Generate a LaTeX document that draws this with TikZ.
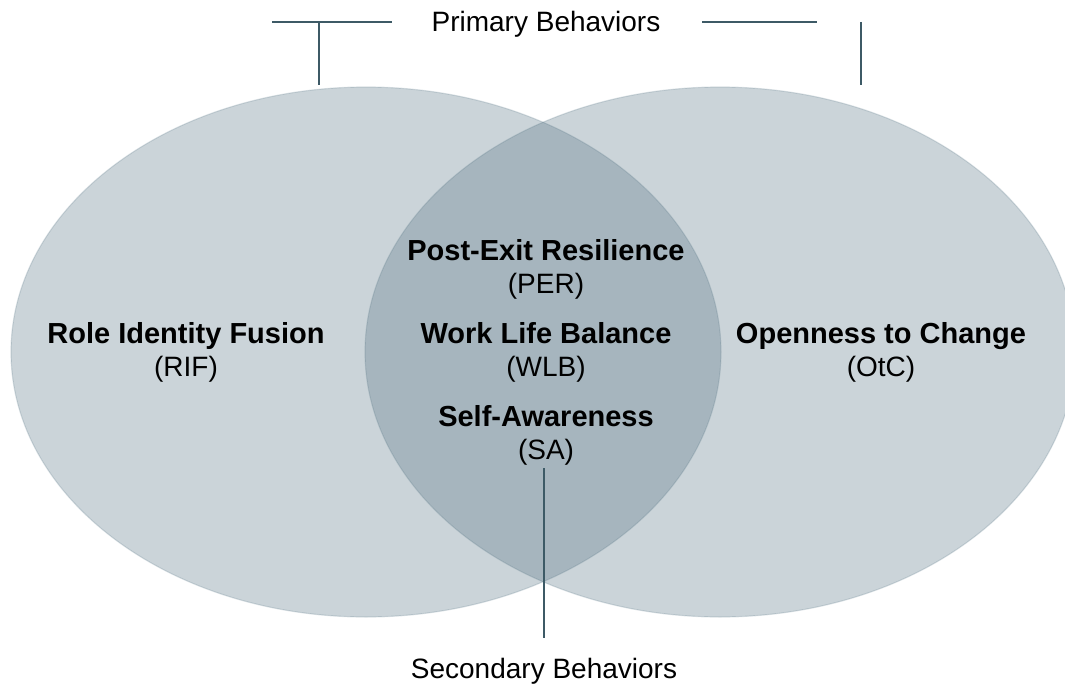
\documentclass[tikz,border=0pt]{standalone}
\usepackage{fontspec}
\setmainfont{Liberation Sans}
\usetikzlibrary{shapes.geometric}
\definecolor{setcolor}{RGB}{76,107,124}
\definecolor{tickcolor}{RGB}{61,90,102}

\begin{document}
\begin{tikzpicture}[x=1pt,y=-1pt,
          set/.style = {ellipse, fill=setcolor, fill opacity=0.29,
          draw=setcolor, draw opacity=0.2, line width=1.2pt,
          minimum width=710pt, minimum height=530pt, inner sep=0pt},
          factor/.style = {align=center, text=black,
          font=\fontsize{28}{33}\selectfont},
          caption/.style = {font=\fontsize{28}{32}\selectfont},
          tick/.style = {draw=tickcolor, line width=2pt}
          ]
          \useasboundingbox (0,0) rectangle (1065,685);
          \node[set] (rif set) at (366,352) {};
          \node[set] (otc set) at (720,352) {};

          \node[factor] (rif) at (186,352) {{\fontsize{29}{33}\selectfont\bfseries Role Identity Fusion} \\ (RIF)};
          \node[factor] (otc) at (881,352) {{\fontsize{29}{33}\selectfont\bfseries Openness to Change} \\ (OtC)};
          \node[factor] (per) at (546,269) {{\fontsize{29}{33}\selectfont\bfseries Post-Exit Resilience} \\ (PER)};
          \node[factor] (wlb) at (546,352) {{\fontsize{29}{33}\selectfont\bfseries Work Life Balance} \\ (WLB)};
          \node[factor] (sa) at (546,435) {{\fontsize{29}{33}\selectfont\bfseries Self-Awareness} \\ (SA)};

          \node[caption] (primary) at (546,24) {Primary Behaviors};
          \node[caption] (secondary) at (544,671) {Secondary Behaviors};

          % brackets
          \coordinate (left a) at (272,22);
          \coordinate (left b) at (392,22);
          \coordinate (left top) at (319,22);
          \coordinate (left end) at (319,85);
          \coordinate (right a) at (702,22);
          \coordinate (right b) at (817,22);
          \coordinate (right top) at (861,22);
          \coordinate (right end) at (861,85);
          \coordinate (mid top) at (544,468);
          \coordinate (mid end) at (544,638);
          \draw[tick] (left a) -- (left b);
          \draw[tick] (left top) -- (left end);
          \draw[tick] (right a) -- (right b);
          \draw[tick] (right top) -- (right end);
          \draw[tick] (mid top) -- (mid end);
\end{tikzpicture}
\end{document}
